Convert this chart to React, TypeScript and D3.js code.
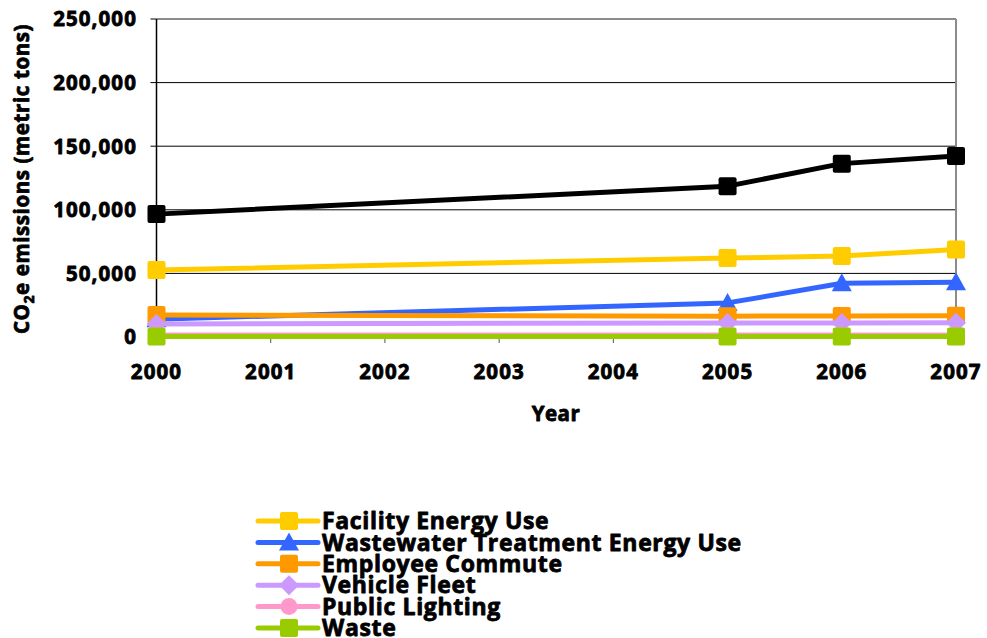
import React from "react";
import * as d3 from "d3";

const years = [2000, 2005, 2006, 2007];
const facilityEnergy = [52700, 62100, 63600, 68800];
const wastewaterEnergy = [14000, 26800, 42200, 43000];
const employeeCommute = [17200, 16400, 16500, 16700];
const vehicleFleet = [10300, 11000, 11100, 11200];
const publicLighting = [1500, 1500, 1500, 1500];
const waste = [400, 400, 400, 400];
const total = [96600, 118600, 136300, 142300];

const yTicks = [0, 50000, 100000, 150000, 200000, 250000];
const xTicks = [2000, 2001, 2002, 2003, 2004, 2005, 2006, 2007];

type Shape = "square" | "triangle" | "diamond" | "circle";
const series: { name: string; values: number[]; color: string; shape: Shape }[] = [
  { name: "Facility Energy Use", values: facilityEnergy, color: "#FFCC00", shape: "square" },
  { name: "Wastewater Treatment Energy Use", values: wastewaterEnergy, color: "#3366FF", shape: "triangle" },
  { name: "Employee Commute", values: employeeCommute, color: "#FF9900", shape: "square" },
  { name: "Vehicle Fleet", values: vehicleFleet, color: "#CC99FF", shape: "diamond" },
  { name: "Public Lighting", values: publicLighting, color: "#FF99CC", shape: "circle" },
  { name: "Waste", values: waste, color: "#99CC00", shape: "square" },
  { name: "Total", values: total, color: "#000000", shape: "square" },
];

const FONT = "'Open Sans', 'DejaVu Sans', sans-serif";

// heavy text: bold face thickened with a thin same-colour outline
const heavy = { stroke: "#000", strokeWidth: 0.8, strokeLinejoin: "round" as const };

function Marker({ shape, x, y, color }: { shape: Shape; x: number; y: number; color: string }) {
  if (shape === "square")
    return <rect x={x - 9} y={y - 9} width={18} height={18} rx={2} fill={color} />;
  if (shape === "triangle")
    return <path d={`M${x},${y - 10}L${x + 10},${y + 8}L${x - 10},${y + 8}Z`} fill={color} />;
  if (shape === "diamond")
    return <path d={`M${x},${y - 10}L${x + 10},${y}L${x},${y + 10}L${x - 10},${y}Z`} fill={color} />;
  return <circle cx={x} cy={y} r={8.5} fill={color} />;
}

export default function App() {
  const W = 987;
  const H = 638;
  const left = 156.5;
  const right = 956;
  const top = 19;
  const bottom = 337;

  const x = d3.scaleLinear().domain([2000, 2007]).range([left, right]);
  const y = d3.scaleLinear().domain([0, 250000]).range([bottom, top]);
  const fmt = d3.format(",");

  const line = d3
    .line<[number, number]>()
    .x((d) => x(d[0]))
    .y((d) => y(d[1]));

  const legendX = 258;
  const legendY0 = 521;
  const legendStep = 21.4;
  // the legend runs past the bottom edge; only the entries that fit are drawn
  const legendSeries = series.filter((_, i) => legendY0 + i * legendStep < H);

  return (
    <svg
      width={W}
      height={H}
      style={{ position: "absolute", left: 0, top: 0, background: "#fff" }}
      fontFamily={FONT}
      fontWeight="bold"
    >
      {/* gridlines */}
      {yTicks.slice(1, -1).map((t) => (
        <line key={t} x1={left} x2={right} y1={y(t)} y2={y(t)} stroke="#000" strokeWidth={1} />
      ))}
      {/* plot frame: top and right */}
      <line x1={left} x2={right} y1={y(250000)} y2={y(250000)} stroke="#8c8c8c" strokeWidth={2} />
      <line x1={right} x2={right} y1={top} y2={bottom} stroke="#8c8c8c" strokeWidth={2} />

      {/* y axis */}
      <line x1={left} x2={left} y1={top} y2={bottom} stroke="#000" strokeWidth={1.5} />
      {yTicks.map((t) => (
        <g key={t}>
          <line x1={left - 6} x2={left} y1={y(t)} y2={y(t)} stroke="#000" strokeWidth={1} />
          <text x={137} y={y(t)} dy="0.36em" textAnchor="end" fontSize={20.5} letterSpacing={1.1} {...heavy}>
            {fmt(t)}
          </text>
        </g>
      ))}

      {/* x axis */}
      <line x1={left} x2={right} y1={bottom} y2={bottom} stroke="#000" strokeWidth={1} />
      {xTicks.map((t) => (
        <g key={t}>
          <line x1={x(t)} x2={x(t)} y1={bottom} y2={bottom + 6} stroke="#555" strokeWidth={1} />
          <text x={x(t)} y={379} textAnchor="middle" fontSize={20.5} letterSpacing={1.1} {...heavy}>
            {t}
          </text>
        </g>
      ))}

      {/* axis titles */}
      <text x={556} y={421} textAnchor="middle" fontSize={20.5} letterSpacing={0.5} {...heavy}>
        Year
      </text>
      <text
        transform={`translate(29, ${(top + bottom) / 2 + 1}) rotate(-90)`}
        textAnchor="middle"
        fontSize={20.5}
        letterSpacing={0.6}
        {...heavy}
      >
        CO
        <tspan fontSize={14} dy={5}>2</tspan>
        <tspan dy={-5}>e emissions (metric tons)</tspan>
      </text>

      {/* series */}
      {series.map((s) => {
        const pts = years.map((yr, i) => [yr, s.values[i]] as [number, number]);
        return (
          <g key={s.name}>
            <path d={line(pts) ?? ""} fill="none" stroke={s.color} strokeWidth={5} strokeLinejoin="round" />
            {pts.map((p) => (
              <Marker key={p[0]} shape={s.shape} x={x(p[0])} y={y(p[1])} color={s.color} />
            ))}
          </g>
        );
      })}

      {/* legend */}
      {legendSeries.map((s, i) => {
        const ly = legendY0 + i * legendStep;
        return (
          <g key={s.name}>
            <line
              x1={legendX}
              x2={legendX + 60}
              y1={ly}
              y2={ly}
              stroke={s.color}
              strokeWidth={5}
              strokeLinecap="round"
            />
            <Marker shape={s.shape} x={legendX + 31} y={ly} color={s.color} />
            <text x={322} y={ly} dy="0.36em" fontSize={23} letterSpacing={0.65} {...heavy}>
              {s.name}
            </text>
          </g>
        );
      })}
    </svg>
  );
}
